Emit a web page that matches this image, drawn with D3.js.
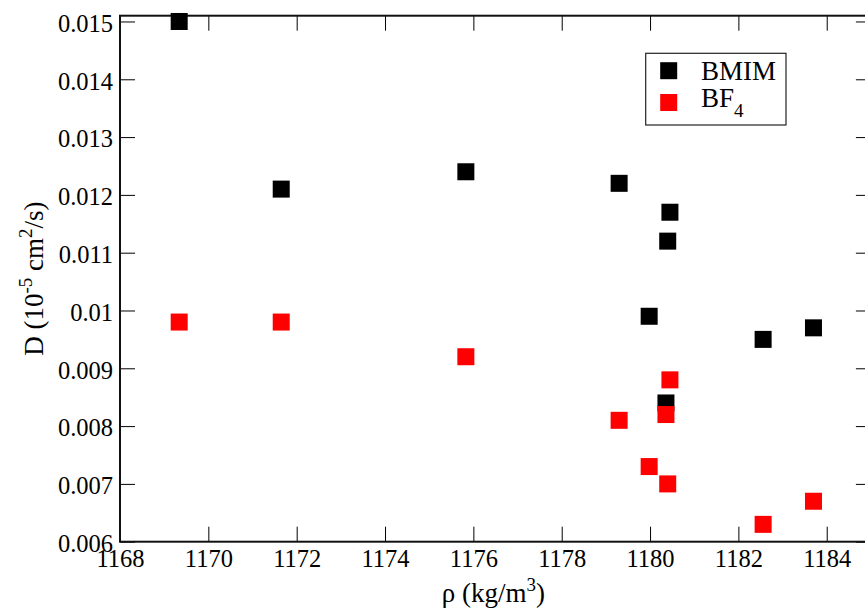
<!DOCTYPE html>
<html>
<head>
<meta charset="utf-8">
<script src="https://cdn.jsdelivr.net/npm/d3@7"></script>
<style>
  html, body { margin: 0; padding: 0; background: #fff; }
  svg { display: block; font-family: "Liberation Serif", "Times New Roman", serif; }
</style>
</head>
<body>
<svg id="chart" width="865" height="610"></svg>
<script>
// Density (kg/m^3) of each run
const density = [1169.34, 1171.65, 1175.83, 1179.30, 1179.98, 1180.40, 1180.36, 1180.45, 1182.56, 1183.70];
// Self-diffusion coefficients, 10^-5 cm^2/s
const bmim = [0.0150, 0.0121, 0.0124, 0.0122, 0.0099, 0.0112, 0.0084, 0.0117, 0.0095, 0.0097];
const bf4  = [0.0098, 0.0098, 0.0092, 0.0081, 0.0073, 0.0070, 0.0082, 0.0088, 0.0063, 0.0067];

const seriesNames = ["BMIM", "BF4"];
const seriesColors = ["#000000", "#ff0000"];

const xTicks = [1168, 1170, 1172, 1174, 1176, 1178, 1180, 1182, 1184];
const yTicks = [0.006, 0.007, 0.008, 0.009, 0.010, 0.011, 0.012, 0.013, 0.014, 0.015];

const svg = d3.select("#chart");
const plotL = 120, plotR = 870.9, plotT = 15.7, plotB = 541.7;

const x = d3.scaleLinear().domain([1168, 1185]).range([plotL, plotR]);
const y = d3.scaleLinear().domain([0.006, 0.0151]).range([plotB, plotT]);

const fmtY = d => String(+d.toFixed(3));
const tickLen = 15;

// Axes: ticks point inward on all four sides
const gB = svg.append("g").attr("transform", `translate(0,${plotB})`)
  .call(d3.axisBottom(x).tickValues(xTicks).tickSizeInner(-tickLen).tickSizeOuter(0).tickPadding(8).tickFormat(d3.format("d")));
const gL = svg.append("g").attr("transform", `translate(${plotL},0)`)
  .call(d3.axisLeft(y).tickValues(yTicks).tickSizeInner(-tickLen).tickSizeOuter(0).tickPadding(7).tickFormat(fmtY));
const gT = svg.append("g").attr("transform", `translate(0,${plotT})`)
  .call(d3.axisTop(x).tickValues(xTicks).tickSizeInner(-tickLen).tickSizeOuter(0).tickFormat(""));
const gR = svg.append("g").attr("transform", `translate(${plotR},0)`)
  .call(d3.axisRight(y).tickValues(yTicks).tickSizeInner(-tickLen).tickSizeOuter(0).tickFormat(""));

[gB, gL, gT, gR].forEach(g => {
  g.select(".domain").remove();
  g.selectAll(".tick line").attr("stroke", "#000").attr("stroke-width", 1);
  g.selectAll("text").attr("fill", "#000").style("font-size", "24.5px")
    .style("font-family", "'Liberation Serif', 'Times New Roman', serif");
});
gL.selectAll("text").attr("dy", "0.4em");

// Frame
svg.append("rect")
  .attr("x", plotL).attr("y", plotT)
  .attr("width", plotR - plotL).attr("height", plotB - plotT)
  .attr("fill", "none").attr("stroke", "#111").attr("stroke-width", 2);

// Markers
const sz = 17;
[bmim, bf4].forEach((vals, i) => {
  svg.append("g").selectAll("rect")
    .data(vals.map((v, j) => [density[j], v]))
    .join("rect")
    .attr("x", d => x(d[0]) - sz / 2)
    .attr("y", d => y(d[1]) - sz / 2)
    .attr("width", sz).attr("height", sz)
    .attr("fill", seriesColors[i]);
});

// Axis titles
const xt = svg.append("text")
  .attr("x", (plotL + plotR) / 2 - 2).attr("y", 602)
  .attr("text-anchor", "middle").style("font-size", "27px");
xt.append("tspan").text("ρ (kg/m");
xt.append("tspan").text("3").attr("dy", -11).style("font-size", "19px");
xt.append("tspan").text(")").attr("dy", 11);

const yt = svg.append("text")
  .attr("transform", `translate(43,${(plotT + plotB) / 2}) rotate(-90)`)
  .attr("text-anchor", "middle").style("font-size", "27px");
yt.append("tspan").text("D (10");
yt.append("tspan").text("-5").attr("dy", -11).style("font-size", "19px");
yt.append("tspan").text(" cm").attr("dy", 11);
yt.append("tspan").text("2").attr("dy", -11).style("font-size", "19px");
yt.append("tspan").text("/s)").attr("dy", 11);

// Legend
const lg = svg.append("g");
lg.append("rect")
  .attr("x", 645.7).attr("y", 53.3).attr("width", 140.3).attr("height", 71.7)
  .attr("fill", "#fff").attr("stroke", "#222").attr("stroke-width", 1.2);
const rows = [70.7, 102.5];
seriesNames.forEach((name, i) => {
  lg.append("rect")
    .attr("x", 668.7 - sz / 2).attr("y", rows[i] - sz / 2)
    .attr("width", sz).attr("height", sz)
    .attr("fill", seriesColors[i]);
});
lg.append("text").attr("x", 701).attr("y", 80).style("font-size", "27px").text("BMIM");
const t2 = lg.append("text").attr("x", 701).attr("y", 106.7).style("font-size", "27px");
t2.append("tspan").text("BF");
t2.append("tspan").text("4").attr("dy", 10).style("font-size", "19px");
</script>
</body>
</html>
